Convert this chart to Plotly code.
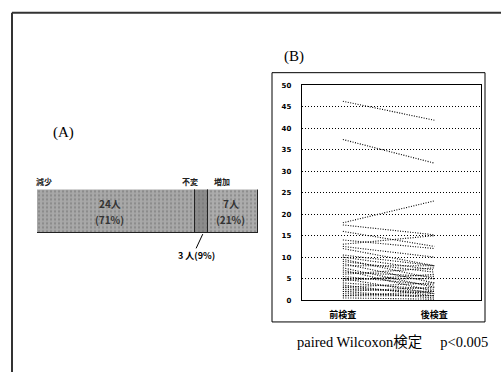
import plotly.graph_objects as go

W, H = 501, 376

# ---- (A) data ----
change_labels = ["減少", "不変", "増加"]
change_counts = [24, 3, 7]
change_pct = [71, 9, 21]
bar_share = [71.6, 5.6, 22.8]          # segment lengths as drawn (%)
bar_fill = ["#a8a8a8", "#8c8c8c", "#acacac"]

# ---- (B) data ----
categories = ["前検査", "後検査"]
pre_values = [46.3, 37.4, 18.0, 17.5, 16.0, 14.0, 13.0, 12.0, 10.5, 10.0, 9.5, 9.0,
              8.5, 8.0, 7.5, 7.0, 6.5, 6.0, 5.5, 5.0, 5.0, 4.5, 4.0, 3.5, 3.0, 3.0,
              2.5, 2.0, 2.0, 1.5, 1.0, 1.0, 0.5, 12.5]
post_values = [41.9, 31.9, 23.1, 15.2, 12.5, 12.0, 15.0, 8.0, 8.0, 7.0, 5.0, 6.5,
               4.0, 8.0, 3.0, 2.0, 5.5, 7.5, 3.5, 1.5, 5.0, 6.0, 2.5, 1.0, 4.0, 1.5,
               2.0, 3.0, 0.5, 1.0, 1.0, 2.0, 0.2, 10.0]
y_ticks = [0, 5, 10, 15, 20, 25, 30, 35, 40, 45, 50]


def px(x):
    return x / W


def py(y):
    return 1 - y / H


fig = go.Figure()

# (A) stacked horizontal bar
for lab, val, col in zip(change_labels, bar_share, bar_fill):
    fig.add_trace(go.Bar(
        x=[val], y=[0], orientation="h", name=lab, width=1,
        marker=dict(color=col, line=dict(color="#222", width=1.2),
                    pattern=dict(shape=".", fgcolor="#6a6a6a", bgcolor=col,
                                 size=4, solidity=0.25)),
        xaxis="x", yaxis="y", showlegend=False, hoverinfo="skip"))

# (B) paired lines
for a, b in zip(pre_values, post_values):
    fig.add_trace(go.Scatter(
        x=[0, 1], y=[a, b], mode="lines",
        line=dict(color="black", width=1.1, dash="1px,1.5px"),
        xaxis="x2", yaxis="y2", showlegend=False, hoverinfo="skip"))

serif = "Liberation Serif, DejaVu Serif, serif"
cjk = "Noto Sans CJK JP"

fig.update_layout(
    width=W, height=H, margin=dict(l=0, r=0, t=0, b=0),
    paper_bgcolor="white", plot_bgcolor="rgba(0,0,0,0)",
    barmode="stack", bargap=0,
    xaxis=dict(domain=[px(37), px(258.3)], range=[0, 100], visible=False, fixedrange=True),
    yaxis=dict(domain=[py(235), py(190)], range=[-0.5, 0.5], visible=False, fixedrange=True),
    xaxis2=dict(domain=[px(301.7), px(481)], range=[-0.45, 1.51],
                tickvals=[0, 1], ticktext=["<b>%s</b>" % c for c in categories],
                showgrid=False, zeroline=False,
                showline=True, linecolor="black", linewidth=1, mirror=True, ticks="",
                ticklabelstandoff=6,
                tickfont=dict(family=cjk, size=9, color="black"), anchor="y2"),
    yaxis2=dict(domain=[py(302.7), py(83.3)], range=[0, 50.15],
                tickvals=y_ticks, ticktext=["<b>%d</b>" % v for v in y_ticks],
                showgrid=True, gridcolor="black", gridwidth=1, griddash="1px,2px",
                zeroline=False, showline=True, linecolor="black", linewidth=1,
                mirror=True, ticks="", ticklabelstandoff=8,
                tickfont=dict(family="DejaVu Sans", size=7, color="black"), anchor="x2"),
)

ann = []


def add_text(text, x, y, font, xref="paper", yref="paper", xanchor="center"):
    ann.append(dict(text=text, x=x, y=y, xref=xref, yref=yref, showarrow=False,
                    xanchor=xanchor, yanchor="middle", font=font))


# panel labels
add_text("(A)", px(64), py(131.7), dict(family=serif, size=15, color="black"))
add_text("(B)", px(294), py(55), dict(family=serif, size=15, color="black"))
# category labels over bar
for lab, xx in zip(change_labels, [43.5, 190, 222]):
    add_text("<b>" + lab + "</b>", px(xx), py(182), dict(family=cjk, size=8, color="#222"))
# texts inside bar (two lines each)
cum = 0
centers = []
for v in bar_share:
    centers.append(cum + v / 2)
    cum += v
bar_font = dict(family=cjk, size=10, color="#333")
for idx, shift in ((0, -3), (2, -1)):
    add_text("<b>%d人</b>" % change_counts[idx], centers[idx] + shift, py(204),
             bar_font, xref="x")
    add_text("<b>(%d%%)</b>" % change_pct[idx], centers[idx] + shift, py(221),
             bar_font, xref="x")
# unchanged callout
add_text("<b>%d 人(%d%%)</b>" % (change_counts[1], change_pct[1]), px(196), py(257),
         dict(family=cjk, size=9, color="black"))
# footer
add_text("paired Wilcoxon検定　 p<0.005", px(295), py(345),
         dict(family=serif + ", " + cjk, size=14.5, color="black"), xanchor="left")
fig.update_layout(annotations=ann)

shapes = [
    # outer frame
    dict(type="line", xref="paper", yref="paper", x0=px(12), y0=py(10), x1=1, y1=py(10),
         line=dict(color="#333", width=2)),
    dict(type="line", xref="paper", yref="paper", x0=px(12), y0=py(10), x1=px(12), y1=0,
         line=dict(color="#333", width=2)),
    # (B) box
    dict(type="rect", xref="paper", yref="paper", x0=px(272), y0=py(325), x1=px(485), y1=py(71),
         line=dict(color="black", width=1)),
    # leader line for unchanged segment
    dict(type="line", xref="x", yref="paper", x0=centers[1] + 0.5, y0=py(235.5),
         x1=centers[1] - 2.5, y1=py(250), line=dict(color="black", width=1)),
]
fig.update_layout(shapes=shapes)

fig.write_html("out.html")
